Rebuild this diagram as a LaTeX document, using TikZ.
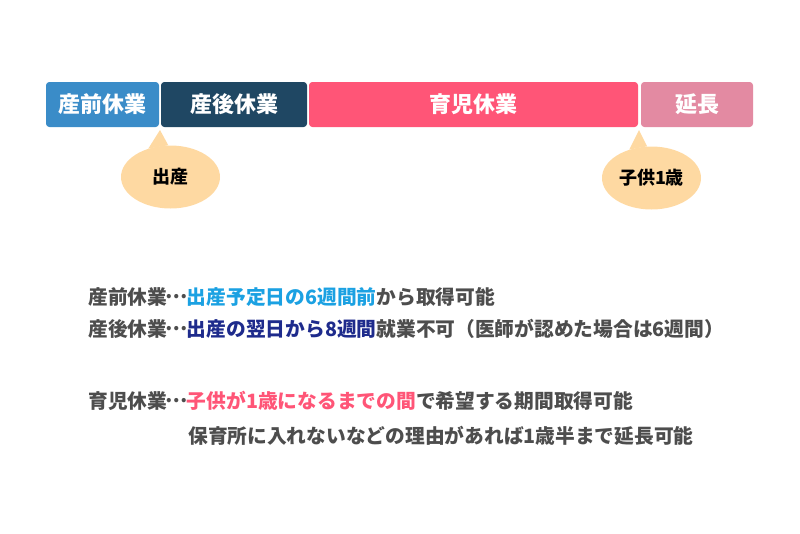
\documentclass[tikz,border=0pt]{standalone}
\usepackage{fontspec}
\setmainfont{Noto Sans CJK JP}
\usetikzlibrary{shapes.geometric}
\definecolor{prebar}{HTML}{3A8CC8}
\definecolor{postbar}{HTML}{1F4763}
\definecolor{carebar}{HTML}{FF5577}
\definecolor{extbar}{HTML}{E38AA2}
\definecolor{bubblefill}{HTML}{FED9A2}
\definecolor{bodytext}{HTML}{4D4D4D}
\definecolor{skyblue}{HTML}{1BA1E2}
\definecolor{navyblue}{HTML}{1E2B8C}
\newcommand{\dotsep}{\makebox[1em][c]{\raisebox{0.3em}{…}}}
\begin{document}
\begin{tikzpicture}[x=0.75pt, y=-0.75pt,
    bar/.style={rectangle, rounded corners=2.5pt, minimum height=33.75pt, inner sep=0pt, text=white, font=\fontsize{16.5}{18}\selectfont\bfseries},
    bubble/.style={ellipse, fill=bubblefill, minimum width=74.25pt, minimum height=47.25pt, inner sep=0pt, font=\fontsize{13.5}{15}\selectfont\bfseries},
    noteline/.style={anchor=west, inner sep=0pt, text=bodytext, font=\fontsize{14.8}{18}\selectfont\bfseries}]
    \useasboundingbox (0,0) rectangle (800,533);

    % timeline bars
    \node[bar, fill=prebar, minimum width=84.75pt] (pre) at (102.5,104.5) {産前休業};
    \node[bar, fill=postbar, minimum width=109.5pt] (post) at (234,104.5) {産後休業};
    \node[bar, fill=carebar, minimum width=246.75pt] (care) at (473.5,104.5) {育児休業};
    \node[bar, fill=extbar, minimum width=84pt] (ext) at (697,104.5) {延長};

    % callouts
    \coordinate (birthtip) at (160,130);
    \coordinate (agetip) at (639,130);
    \node[bubble] (birth) at (170.5,177) {出産};
    \node[bubble] (age) at (651.5,178) {子供1歳};
    \fill[bubblefill] (birthtip) -- (birth.128) -- (birth.94) -- cycle;
    \fill[bubblefill] (agetip) -- (age.128) -- (age.98) -- cycle;

    % notes
    \node[noteline] (n1) at (88,297) {産前休業\dotsep\textcolor{skyblue}{出産予定日の6週間前}から取得可能};
    \node[noteline] (n2) at (88,329) {産後休業\dotsep\textcolor{navyblue}{出産の翌日から8週間}就業不可（医師が認めた場合は6週間）};
    \node[noteline] (n3) at (88,401) {育児休業\dotsep\textcolor{carebar}{子供が1歳になるまでの間}で希望する期間取得可能};
    \node[noteline] (n4) at (188,436) {保育所に入れないなどの理由があれば1歳半まで延長可能};
\end{tikzpicture}
\end{document}
